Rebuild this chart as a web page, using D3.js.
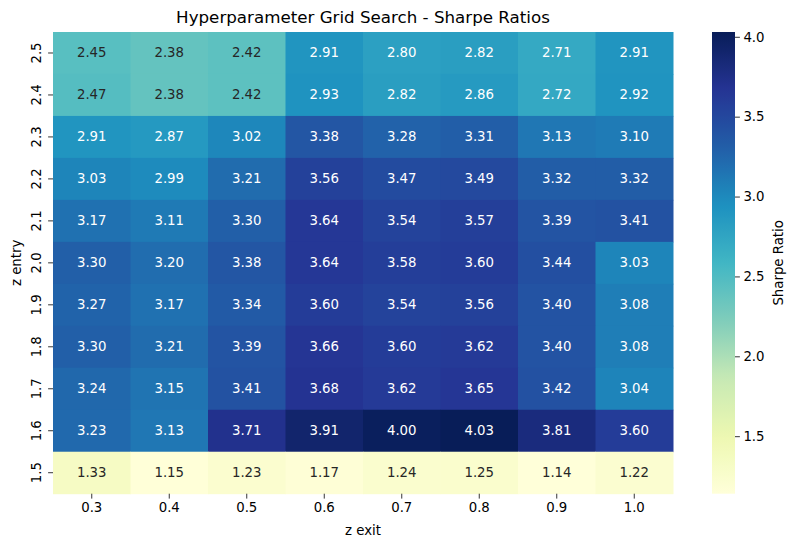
<!DOCTYPE html>
<html><head><meta charset="utf-8">
<script src="https://cdn.jsdelivr.net/npm/d3@7"></script>
<style>body{margin:0;background:#fff}text{font-family:"DejaVu Sans",sans-serif}</style>
</head><body><svg id="c" width="796" height="547"></svg>
<script>
const zExit = ["0.3","0.4","0.5","0.6","0.7","0.8","0.9","1.0"];
const zEntry = ["2.5","2.4","2.3","2.2","2.1","2.0","1.9","1.8","1.7","1.6","1.5"];
const values = [
 [2.45,2.38,2.42,2.91,2.80,2.82,2.71,2.91],
 [2.47,2.38,2.42,2.93,2.82,2.86,2.72,2.92],
 [2.91,2.87,3.02,3.38,3.28,3.31,3.13,3.10],
 [3.03,2.99,3.21,3.56,3.47,3.49,3.32,3.32],
 [3.17,3.11,3.30,3.64,3.54,3.57,3.39,3.41],
 [3.30,3.20,3.38,3.64,3.58,3.60,3.44,3.03],
 [3.27,3.17,3.34,3.60,3.54,3.56,3.40,3.08],
 [3.30,3.21,3.39,3.66,3.60,3.62,3.40,3.08],
 [3.24,3.15,3.41,3.68,3.62,3.65,3.42,3.04],
 [3.23,3.13,3.71,3.91,4.00,4.03,3.81,3.60],
 [1.33,1.15,1.23,1.17,1.24,1.25,1.14,1.22]
];
const cbarTicks = [1.5,2.0,2.5,3.0,3.5,4.0];
const ylgnbu = ["#ffffd9","#edf8b1","#c7e9b4","#7fcdbb","#41b6c4","#1d91c0","#225ea8","#253494","#081d58"];
const vmin = 1.14, vmax = 4.03;

const svg = d3.select("#c");
const L=53, R=673, T=32, B=493.7;
const x = d3.scaleBand().domain(zExit).range([L,R]);
const y = d3.scaleBand().domain(zEntry).range([T,B]);
const interp = d3.piecewise(d3.interpolateRgb, ylgnbu);
const color = v => interp(Math.max(0,Math.min(1,(v-vmin)/(vmax-vmin))));

function lum(c){
  const r = d3.rgb(c);
  const f = u => { u/=255; return u<=0.03928? u/12.92 : Math.pow((u+0.055)/1.055,2.4); };
  return 0.2126*f(r.r)+0.7152*f(r.g)+0.0722*f(r.b);
}

const cells = [];
values.forEach((row,i)=>row.forEach((v,j)=>cells.push({r:zEntry[i],c:zExit[j],v})));
const g = svg.append("g");
g.selectAll("rect").data(cells).join("rect")
 .attr("x",d=>x(d.c)).attr("y",d=>y(d.r))
 .attr("width",x.bandwidth()+0.5).attr("height",y.bandwidth()+0.5)
 .attr("fill",d=>color(d.v));
g.selectAll("text.a").data(cells).join("text").attr("class","a")
 .attr("x",d=>x(d.c)+x.bandwidth()/2).attr("y",d=>y(d.r)+y.bandwidth()/2)
 .attr("text-anchor","middle").attr("dominant-baseline","central")
 .attr("font-size","13.3px")
 .attr("fill",d=>lum(color(d.v))>0.408?"#262626":"#ffffff")
 .text(d=>d.v.toFixed(2));

// x axis
const xa = svg.append("g").attr("transform",`translate(0,${B})`)
 .call(d3.axisBottom(x).tickSize(4.9).tickPadding(4));
xa.select(".domain").remove();
xa.selectAll("text").attr("font-size","13.3px").attr("fill","#000").style("font-family","DejaVu Sans");
xa.selectAll("line").attr("stroke","#000").attr("stroke-width",0.8);

// y axis
const ya = svg.append("g").attr("transform",`translate(${L},0)`)
 .call(d3.axisLeft(y).tickSize(4.9).tickPadding(4));
ya.select(".domain").remove();
ya.selectAll("line").attr("stroke","#000").attr("stroke-width",0.8);
ya.selectAll("text").attr("font-size","13.3px").attr("fill","#000").style("font-family","DejaVu Sans")
 .attr("x",null).attr("dy",null)
 .attr("text-anchor","middle")
 .attr("transform","translate(-17,0) rotate(-90)")
 .attr("dominant-baseline","central");

svg.append("text").attr("x",(L+R)/2).attr("y",23).attr("text-anchor","middle")
 .attr("font-size","16.7px").text("Hyperparameter Grid Search - Sharpe Ratios");
svg.append("text").attr("x",(L+R)/2).attr("y",534.5).attr("text-anchor","middle")
 .attr("font-size","13.3px").text("z exit");
svg.append("text").attr("transform",`translate(21,${(T+B)/2}) rotate(-90)`).attr("text-anchor","middle")
 .attr("font-size","13.3px").text("z entry");

// colorbar
const CL=712, CR=735;
const cy = d3.scaleLinear().domain([vmin,vmax]).range([B,T]);
const defs = svg.append("defs");
const grad = defs.append("linearGradient").attr("id","cg").attr("x1",0).attr("y1",1).attr("x2",0).attr("y2",0);
d3.range(0,1.0001,0.02).forEach(t=>grad.append("stop").attr("offset",t).attr("stop-color",interp(t)));
svg.append("rect").attr("x",CL).attr("y",T).attr("width",CR-CL).attr("height",B-T).attr("fill","url(#cg)");
const ca = svg.append("g").attr("transform",`translate(${CR},0)`)
 .call(d3.axisRight(cy).tickValues(cbarTicks).tickFormat(d3.format(".1f")).tickSize(4.9).tickPadding(3.5));
ca.select(".domain").remove();
ca.selectAll("line").attr("stroke","#000").attr("stroke-width",0.8);
ca.selectAll("text").attr("font-size","13.3px").attr("fill","#000").style("font-family","DejaVu Sans");
svg.append("text").attr("transform",`translate(783,${(T+B)/2}) rotate(-90)`).attr("text-anchor","middle")
 .attr("font-size","13.3px").text("Sharpe Ratio");
</script></body></html>
